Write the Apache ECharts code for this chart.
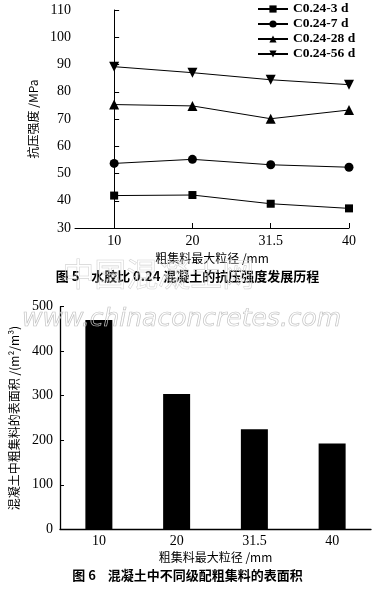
<!DOCTYPE html>
<html>
<head>
<meta charset="utf-8">
<script src="https://cdn.jsdelivr.net/npm/echarts@6/dist/echarts.min.js"></script>
<style>
html,body{margin:0;padding:0;background:#fff;}
#c{width:375px;height:589px;}
</style>
</head>
<body>
<div id="c"></div>
<script>
// Figure 5 data
var sizeCategories = ['10', '20', '31.5', '40'];
var seriesNames = ['C0.24-3 d', 'C0.24-7 d', 'C0.24-28 d', 'C0.24-56 d'];
var strength3d = [41.9, 42.1, 38.9, 37.2];
var strength7d = [53.7, 55.2, 53.2, 52.3];
var strength28d = [75.3, 74.8, 70.1, 73.3];
var strength56d = [89.2, 87.0, 84.4, 82.6];
var strengthTicks = [30, 40, 50, 60, 70, 80, 90, 100, 110];
// Figure 6 data
var surfaceArea = [470, 304, 225, 193];
var areaTicks = [0, 100, 200, 300, 400, 500];

var serif = '"Liberation Serif", "Times New Roman", serif';
var cjk = '"Noto Sans CJK SC", sans-serif';

function pts(arr) { return arr.map(function (v, i) { return [i, v]; }); }

var symbols = ['rect', 'circle', 'triangle', 'triangle'];
var rotates = [0, 0, 0, 180];
var sizes = [8, 9, 10, 10];
var dataSets = [strength3d, strength7d, strength28d, strength56d];

var lineSeries = dataSets.map(function (d, k) {
  return {
    name: seriesNames[k], type: 'line', xAxisIndex: 0, yAxisIndex: 0,
    data: pts(d), symbol: symbols[k], symbolRotate: rotates[k], symbolSize: sizes[k],
    lineStyle: { color: '#000', width: 1 }, itemStyle: { color: '#000' },
    showAllSymbol: true, animation: false
  };
});

var chart = echarts.init(document.getElementById('c'), null, { renderer: 'canvas' });
chart.setOption({
  backgroundColor: '#fff',
  animation: false,
  grid: [
    { left: 75, top: 10, width: 274, height: 218 },
    { left: 59, top: 306.7, width: 312, height: 222.6 }
  ],
  legend: {
    data: seriesNames, orient: 'vertical', left: 257, top: 2, padding: 0,
    itemWidth: 30, itemHeight: 9, itemGap: 1,
    textStyle: { fontFamily: serif, fontSize: 13.5, fontWeight: 'bold', color: '#000', lineHeight: 14 },
    selectedMode: false
  },
  xAxis: [
    {
      type: 'value', gridIndex: 0, min: -0.5, max: 3,
      axisLine: { lineStyle: { color: '#000', width: 1 } },
      axisTick: { inside: true, length: 5, lineStyle: { color: '#000' }, customValues: [0, 1, 2, 3] },
      axisLabel: { customValues: [0, 1, 2, 3], formatter: function (v) { return sizeCategories[Math.round(v)]; },
        fontFamily: serif, fontSize: 14, color: '#000', margin: 6 },
      splitLine: { show: false },
      name: '粗集料最大粒径 /mm', nameLocation: 'middle', nameGap: 24,
      nameTextStyle: { fontFamily: cjk, fontSize: 12, color: '#000' }
    },
    {
      type: 'category', gridIndex: 1, data: sizeCategories, boundaryGap: true,
      axisLine: { lineStyle: { color: '#000', width: 1.3 } },
      axisTick: { show: false },
      axisLabel: { fontFamily: serif, fontSize: 14, color: '#000', margin: 5 },
      name: '粗集料最大粒径 /mm', nameLocation: 'middle', nameGap: 22,
      nameTextStyle: { fontFamily: cjk, fontSize: 12, color: '#000' }
    }
  ],
  yAxis: [
    {
      type: 'value', gridIndex: 0, min: 30, max: 110, interval: 10,
      axisLine: { show: true, lineStyle: { color: '#000', width: 1 } },
      axisTick: { show: true, inside: true, length: 5, lineStyle: { color: '#000' } },
      axisLabel: { fontFamily: serif, fontSize: 14, color: '#000', margin: 4,
        formatter: function (v) { return strengthTicks.indexOf(v) >= 0 ? String(v) : ''; } },
      splitLine: { show: false },
      name: '抗压强度 /MPa', nameLocation: 'middle', nameGap: 29, nameRotate: 90,
      nameTextStyle: { fontFamily: cjk, fontSize: 12, color: '#000' }
    },
    {
      type: 'value', gridIndex: 1, min: 0, max: 500, interval: 100,
      axisLine: { show: true, lineStyle: { color: '#000', width: 1.3 } },
      axisTick: { show: true, inside: true, length: 4, lineStyle: { color: '#000' } },
      axisLabel: { fontFamily: serif, fontSize: 14, color: '#000', margin: 7,
        formatter: function (v) { return areaTicks.indexOf(v) >= 0 ? String(v) : ''; } },
      splitLine: { show: false },
      name: '混凝土中粗集料的表面积 /(m²/m³)', nameLocation: 'middle', nameGap: 40, nameRotate: 90,
      nameTextStyle: { fontFamily: cjk, fontSize: 12, color: '#000' }
    }
  ],
  series: lineSeries.concat([
    {
      type: 'bar', xAxisIndex: 1, yAxisIndex: 1, data: surfaceArea,
      barWidth: 27, itemStyle: { color: '#000' }, animation: false
    }
  ]),
  graphic: [
    { type: 'text', left: 'center', top: 270, z: 10,
      style: { text: '图 5    水胶比 0.24 混凝土的抗压强度发展历程', font: 'bold 13px "Noto Sans CJK SC", sans-serif', fill: '#000' } },
    { type: 'text', left: 'center', top: 569, z: 10,
      style: { text: '图 6    混凝土中不同级配粗集料的表面积', font: 'bold 13px "Noto Sans CJK SC", sans-serif', fill: '#000' } },
    { type: 'text', left: 62, top: 258, z: 20, silent: true,
      style: { text: '中国混凝土网', font: '32px "Noto Sans CJK SC", sans-serif',
        fill: 'transparent', stroke: '#d4d4d4', lineWidth: 0.6 } },
    { type: 'text', x: 22, y: 319, z: 20, silent: true,
      style: { text: 'www.chinaconcretes.com', font: 'italic 25px "DejaVu Sans", sans-serif', verticalAlign: 'middle', textVerticalAlign: 'middle',
        fill: 'transparent', stroke: '#c4c4c4', lineWidth: 0.7 } }
  ]
});
</script>
</body>
</html>
